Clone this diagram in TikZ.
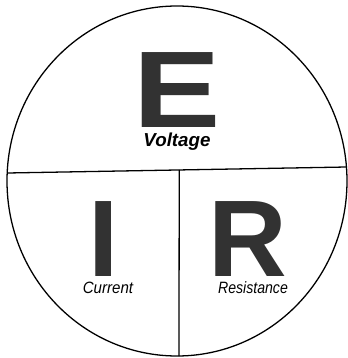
\documentclass[tikz,border=0pt]{standalone}
\usepackage{fontspec}
\setmainfont{Liberation Sans}
\usepackage{tikz}
\usetikzlibrary{positioning,calc}
\definecolor{inkgray}{RGB}{50,50,50}

\newcommand{\letterfont}{\fontsize{93}{93}\selectfont\bfseries\upshape\color{inkgray}}

\tikzset{
    quarter/.style={inner sep=0pt, anchor=base, text=black, font=\fontsize{14}{14}\selectfont\itshape},
}

\begin{document}
\begin{tikzpicture}[x=0.03cm, y=-0.03cm]
    \useasboundingbox (0,0) rectangle (348,358);

    % Outer circle
    \draw[line width=1.1pt] (177,181) ellipse [x radius=170, y radius=175];

    % Dividing lines
    \coordinate (left) at (7.2,173);
    \coordinate (right) at (346.5,167);
    \coordinate (mid) at ($(left)!0.507!(right)$);
    \coordinate (bottom) at (179,356);
    \draw[line width=1.1pt] (left) -- (right);
    \draw[line width=1.1pt] (mid) -- (bottom);

    % Top part: voltage
    \node[quarter] (E) at (177,146) {\begin{tabular}[b]{@{}c@{}}
        {\letterfont\scalebox{1.2}[1]{E}}\\
        {\fontsize{16}{16}\selectfont\bfseries Voltage}
    \end{tabular}};

    % Bottom left: current
    \node[quarter] (I) at (108,293) {\begin{tabular}[b]{@{}c@{}}
        {\letterfont I}\kern6.8pt\\
        \scalebox{0.92}[1]{Current}
    \end{tabular}};

    % Bottom right: resistance
    \node[quarter] (R) at (253,293) {\begin{tabular}[b]{@{}c@{}}
        {\letterfont R}\kern8.5pt\\
        \scalebox{0.86}[1]{Resistance}
    \end{tabular}};
\end{tikzpicture}
\end{document}
